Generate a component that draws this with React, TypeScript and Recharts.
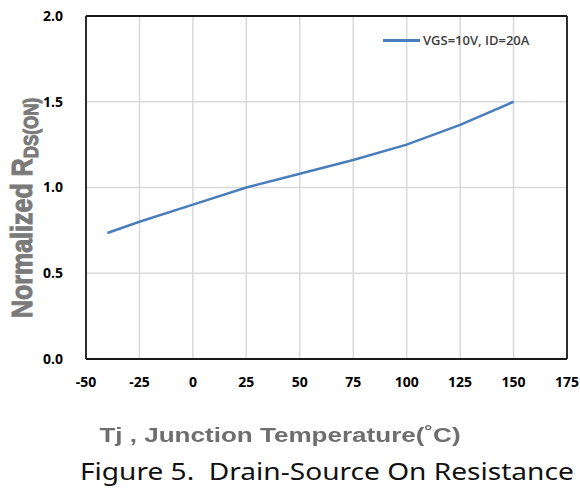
import {
  LineChart,
  Line,
  XAxis,
  YAxis,
  CartesianGrid,
  ReferenceLine,
} from "recharts";

// Tj (°C) vs normalized RDS(ON)
const TEMPS = [-40, -25, 0, 25, 50, 75, 100, 125, 150];
const RDS_NORM = [0.735, 0.8, 0.9, 1.0, 1.08, 1.16, 1.25, 1.365, 1.5];
const X_TICKS = [-50, -25, 0, 25, 50, 75, 100, 125, 150, 175];
const Y_TICKS = [0, 0.5, 1.0, 1.5, 2.0];
const X_DOMAIN: [number, number] = [-50, 175];
const Y_DOMAIN: [number, number] = [0, 2];
const SERIES_NAME = "VGS=10V, ID=20A";

const LINE_COLOUR = "#4a7ebb";
const TICK_FONT = "'Open Sans', sans-serif";
const TITLE_FONT = "'Liberation Sans', Arial, sans-serif";
const FRAME = { stroke: "#1a1a1a", strokeWidth: 1.8 };

const data = TEMPS.map((t, i) => ({ t, r: RDS_NORM[i] }));

export default function App() {
  return (
    <div
      style={{
        position: "fixed",
        left: 0,
        top: 0,
        width: 580,
        height: 491,
        background: "#fff",
      }}
    >
      <LineChart
        width={580}
        height={491}
        data={data}
        margin={{ top: 16, right: 13, bottom: 102, left: 0 }}
      >
        <CartesianGrid stroke="#d9d9d9" strokeWidth={1.5} />
        <XAxis
          dataKey="t"
          type="number"
          domain={X_DOMAIN}
          ticks={X_TICKS}
          interval={0}
          height={30}
          axisLine={FRAME}
          tickLine={false}
          tickSize={0}
          tickMargin={18}
          tick={{
            fill: "#000",
            fontSize: 14,
            fontWeight: 700,
            fontFamily: TICK_FONT,
          }}
        />
        <YAxis
          type="number"
          domain={Y_DOMAIN}
          ticks={Y_TICKS}
          width={86}
          axisLine={FRAME}
          tickLine={false}
          tickSize={0}
          tickMargin={23}
          tickFormatter={(v: number) => v.toFixed(1)}
          tick={{
            fill: "#000",
            fontSize: 14,
            fontWeight: 700,
            fontFamily: TICK_FONT,
          }}
        />
        <ReferenceLine y={Y_DOMAIN[1]} {...FRAME} ifOverflow="visible" />
        <ReferenceLine x={X_DOMAIN[1]} {...FRAME} ifOverflow="visible" />
        <Line
          dataKey="r"
          name={SERIES_NAME}
          stroke={LINE_COLOUR}
          strokeWidth={2.5}
          dot={false}
          isAnimationActive={false}
        />
      </LineChart>

      {/* y title; the source image is stretched sideways, so glyphs are scaled */}
      <svg
        width={60}
        height={360}
        style={{ position: "absolute", left: 0, top: 0, overflow: "visible" }}
      >
        <text
          transform="translate(32, 208) rotate(-90) scale(1, 1.2)"
          textAnchor="middle"
          fill="#7a7a7a"
          stroke="#7a7a7a"
          strokeWidth={0.9}
          fontFamily={TITLE_FONT}
          fontWeight="bold"
          fontSize={25}
        >
          Normalized R
          <tspan fontSize={17} dy={5}>
            DS(ON)
          </tspan>
        </text>
      </svg>

      <div
        style={{
          position: "absolute",
          left: 383,
          top: 31,
          display: "flex",
          alignItems: "center",
          fontFamily: TICK_FONT,
          fontSize: 13,
          fontWeight: 600,
          color: "#404040",
          whiteSpace: "pre",
        }}
      >
        <span
          style={{
            display: "inline-block",
            width: 37,
            height: 3,
            background: LINE_COLOUR,
            marginRight: 3,
          }}
        />
        {SERIES_NAME}
      </div>
      <div
        style={{
          position: "absolute",
          left: 0,
          top: 423,
          width: 560,
          textAlign: "center",
          fontFamily: TITLE_FONT,
          fontWeight: 700,
          fontSize: 21,
          color: "#6e6e6e",
          transform: "scaleX(1.24)",
          transformOrigin: "280px 0",
        }}
      >
        Tj , Junction Temperature(˚C)
      </div>
      <div
        style={{
          position: "absolute",
          left: 80,
          top: 455,
          whiteSpace: "pre",
          fontFamily: "'Noto Sans', sans-serif",
          fontSize: 24,
          color: "#111",
          lineHeight: "32px",
          transform: "scaleX(1.17)",
          transformOrigin: "0 0",
        }}
      >
        {"Figure 5.  Drain-Source On Resistance"}
      </div>
    </div>
  );
}
